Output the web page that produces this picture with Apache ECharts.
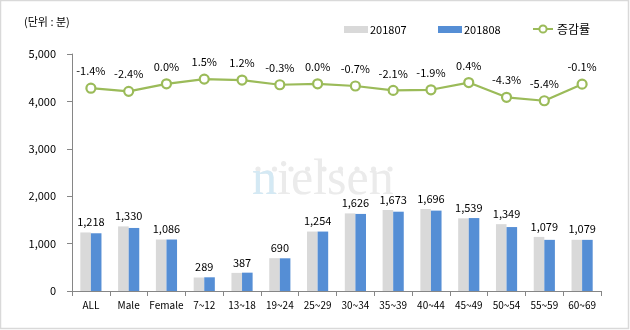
<!DOCTYPE html>
<html>
<head>
<meta charset="utf-8">
<script src="https://cdn.jsdelivr.net/npm/echarts@6/dist/echarts.min.js"></script>
<style>
html,body{margin:0;padding:0;background:#fff;}
#chart{width:630px;height:330px;}
</style>
</head>
<body>
<div id="chart"></div>
<script>
var categories = ['ALL','Male','Female','7~12','13~18','19~24','25~29','30~34','35~39','40~44','45~49','50~54','55~59','60~69'];
var jul2018 = [1235,1363,1086,285,382,692,1254,1637,1709,1729,1533,1410,1141,1080];
var aug2018 = [1218,1330,1086,289,387,690,1254,1626,1673,1696,1539,1349,1079,1079];
var changeRate = [-1.4,-2.4,0.0,1.5,1.2,-0.3,0.0,-0.7,-2.1,-1.9,0.4,-4.3,-5.4,-0.1];
var yTicks = [0,1000,2000,3000,4000,5000];

var FONT = '"Noto Sans CJK KR", "Noto Sans", sans-serif';
var SERIF = '"Liberation Serif", "DejaVu Serif", serif';
var chart = echarts.init(document.getElementById('chart'));

function fmt(v){ return String(v).replace(/\B(?=(\d{3})+(?!\d))/g, ','); }

var dots = [];
for (var i = 0; i < 9; i++) {
  dots.push({type:'circle', shape:{cx:258 + i*16.5, cy:169, r:2.6}, style:{fill:'#ebebeb'}, z:-10, silent:true});
}

var option = {
  animation:false,
  backgroundColor:'#fff',
  textStyle:{fontFamily:FONT},
  graphic:[
    {type:'rect', shape:{x:0.5,y:0.5,width:628,height:328}, style:{fill:'none', stroke:'#d9d9d9', lineWidth:1.5}, z:-20, silent:true},
    {type:'text', left:24, top:16, style:{text:'(단위 : 분)', font:'11px ' + FONT, fill:'#000'}},
    {type:'text', x:252, y:156, z:-10, silent:true, style:{
      text:'nielsen', font:'50px ' + SERIF, fill:'#ebebeb', textBaseline:'alphabetic', textVerticalAlign:'alphabetic'}},
    {type:'text', x:252, y:156, z:-9, silent:true, style:{
      text:'n', font:'50px ' + SERIF, fill:'#d4e9f4', textBaseline:'alphabetic', textVerticalAlign:'alphabetic'}}
  ].concat(dots),
  legend:[
    {left:339, top:19, itemWidth:24, itemHeight:7, itemGap:0, data:[{name:'201807', icon:'rect'}], textStyle:{fontSize:11, color:'#000', padding:[0,0,0,-3], fontFamily:FONT}},
    {left:433, top:19, itemWidth:24, itemHeight:7, itemGap:0, data:[{name:'201808', icon:'rect'}], textStyle:{fontSize:11, color:'#000', padding:[0,0,0,-3], fontFamily:FONT}},
    {left:527, top:18, itemWidth:20, itemHeight:9, itemGap:0, data:['증감률'], textStyle:{fontSize:12, color:'#000', padding:[0,0,0,-1], fontFamily:FONT}}
  ],
  grid:{left:72, right:29, top:54, bottom:39},
  xAxis:{
    type:'category', data:categories, boundaryGap:true,
    axisLine:{lineStyle:{color:'#868686', width:1}},
    axisTick:{show:true, length:5, alignWithLabel:false, lineStyle:{color:'#868686'}},
    axisLabel:{fontSize:10, color:'#000', margin:9, interval:0, fontFamily:FONT}
  },
  yAxis:[
    {type:'value', min:0, max:5000, interval:1000,
     axisLine:{show:true, lineStyle:{color:'#868686'}},
     axisTick:{show:true, length:5, lineStyle:{color:'#868686'}},
     splitLine:{show:false},
     axisLabel:{fontSize:11, color:'#000', margin:16, formatter:function(v){return fmt(v);}, fontFamily:FONT}
    },
    {type:'value', min:-66, max:9.5, show:false, splitLine:{show:false}}
  ],
  series:[
    {name:'201807', type:'bar', data:jul2018, barWidth:'28%', barGap:'0%',
     itemStyle:{color:'#d9d9d9'},
     label:{show:true, position:'top', distance:5, offset:[5.3,0], fontSize:11, color:'#000', fontFamily:FONT,
       formatter:function(p){ return fmt(aug2018[p.dataIndex]); }}
    },
    {name:'201808', type:'bar', data:aug2018, barWidth:'28%', barGap:'0%',
     itemStyle:{color:'#558ed5'}
    },
    {name:'증감률', type:'line', yAxisIndex:1, data:changeRate,
     symbol:'circle', symbolSize:9,
     lineStyle:{color:'#9bbb59', width:2.2},
     itemStyle:{color:'#fff', borderColor:'#9bbb59', borderWidth:2.2},
     label:{show:true, position:'top', distance:6, fontSize:11, color:'#000', fontFamily:FONT,
       formatter:function(p){ return p.value.toFixed(1) + '%'; }}
    }
  ]
};
chart.setOption(option);
</script>
</body>
</html>
